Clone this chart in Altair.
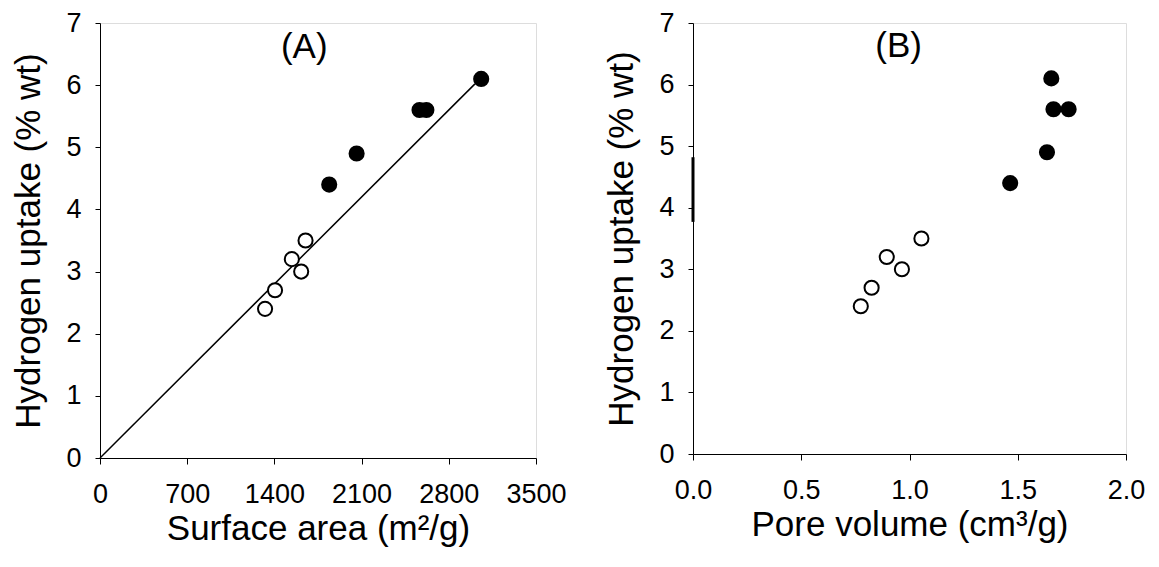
import altair as alt
import pandas as pd

# Panel A data
sa_filled = [3060, 2565, 2620, 2060, 1840]
h_filled = [6.1, 5.6, 5.6, 4.9, 4.4]
sa_open = [1650, 1540, 1615, 1405, 1325]
h_open = [3.5, 3.2, 3.0, 2.7, 2.4]
# Panel B data
pv_filled = [1.655, 1.665, 1.735, 1.635, 1.465]
pv_open = [1.055, 0.895, 0.965, 0.825, 0.775]
# fit line in panel A
fit_x = [0, 3010]
fit_y = [0.0, 6.02]

FONT = "Liberation Sans"
LFS = 27
TFS = 35

dfA = pd.DataFrame({
    "x": sa_filled + sa_open,
    "y": h_filled + h_open,
    "kind": ["filled"] * 5 + ["open"] * 5,
})
dfB = pd.DataFrame({
    "x": pv_filled + pv_open,
    "y": h_filled + h_open,
    "kind": ["filled"] * 5 + ["open"] * 5,
})
dfLine = pd.DataFrame({"x": fit_x, "y": fit_y})

yaxis = alt.Axis(values=list(range(0, 8)), format="d", grid=False, tickSize=5, labelFontSize=LFS,
                 titleFontSize=TFS, labelPadding=14, titlePadding=19, domainColor="black",
                 tickColor="black", labelColor="black", titleColor="black",
                 labelFont=FONT, titleFont=FONT, titleFontWeight="normal", labelFlush=False)
yscale = alt.Scale(domain=[0, 7], nice=False, zero=False)

def xaxis(vals, fmt):
    return alt.Axis(values=vals, format=fmt, grid=False, tickSize=6, labelFontSize=LFS,
                    titleFontSize=TFS, labelPadding=17, titlePadding=4, domainColor="black",
                    tickColor="black", labelColor="black", titleColor="black",
                    labelFont=FONT, titleFont=FONT, titleFontWeight="normal",
                    labelFlush=False)

colscale = alt.Scale(domain=["filled", "open"], range=["black", "white"])

ptsA = alt.Chart(dfA).mark_point(shape="circle", size=200, strokeWidth=2, stroke="black", filled=True, opacity=1).encode(
    x=alt.X("x:Q", scale=alt.Scale(domain=[0, 3500], nice=False), axis=xaxis([0, 700, 1400, 2100, 2800, 3500], "d"),
            title="Surface area (m²/g)"),
    y=alt.Y("y:Q", scale=yscale, axis=yaxis, title="Hydrogen uptake (% wt)"),
    fill=alt.Fill("kind:N", scale=colscale, legend=None),
)
lineA = alt.Chart(dfLine).mark_line(color="black", strokeWidth=1.5).encode(x="x:Q", y="y:Q")
labA = alt.Chart(pd.DataFrame({"x": [1640], "y": [6.62], "t": ["(A)"]})).mark_text(
    font=FONT, fontSize=TFS, color="black").encode(x="x:Q", y="y:Q", text="t:N")
chartA = alt.layer(lineA, ptsA, labA).properties(width=436, height=435)

ptsB = alt.Chart(dfB).mark_point(shape="circle", size=200, strokeWidth=2, stroke="black", filled=True, opacity=1).encode(
    x=alt.X("x:Q", scale=alt.Scale(domain=[0, 2.0], nice=False), axis=xaxis([0, 0.5, 1.0, 1.5, 2.0], ".1f"),
            title="Pore volume (cm³/g)"),
    y=alt.Y("y:Q", scale=yscale, axis=yaxis, title="Hydrogen uptake (% wt)"),
    fill=alt.Fill("kind:N", scale=colscale, legend=None),
)
# small thick artifact on left axis of panel B
artB = alt.Chart(pd.DataFrame({"x": [0.0], "y": [3.77], "y2": [4.82]})).mark_rule(
    color="black", strokeWidth=3).encode(x="x:Q", y="y:Q", y2="y2:Q")
labB = alt.Chart(pd.DataFrame({"x": [0.95], "y": [6.62], "t": ["(B)"]})).mark_text(
    font=FONT, fontSize=TFS, color="black").encode(x="x:Q", y="y:Q", text="t:N")
chartB = alt.layer(ptsB, artB, labB).properties(width=433, height=431)

chart = alt.hconcat(chartA, chartB, spacing=37).properties(
    padding={"left": 3, "top": 0, "right": 0, "bottom": 0}
).configure_view(stroke="black", strokeWidth=1).configure(background="white")

chart.save("out.html", embed_options={"renderer": "svg", "actions": False})
